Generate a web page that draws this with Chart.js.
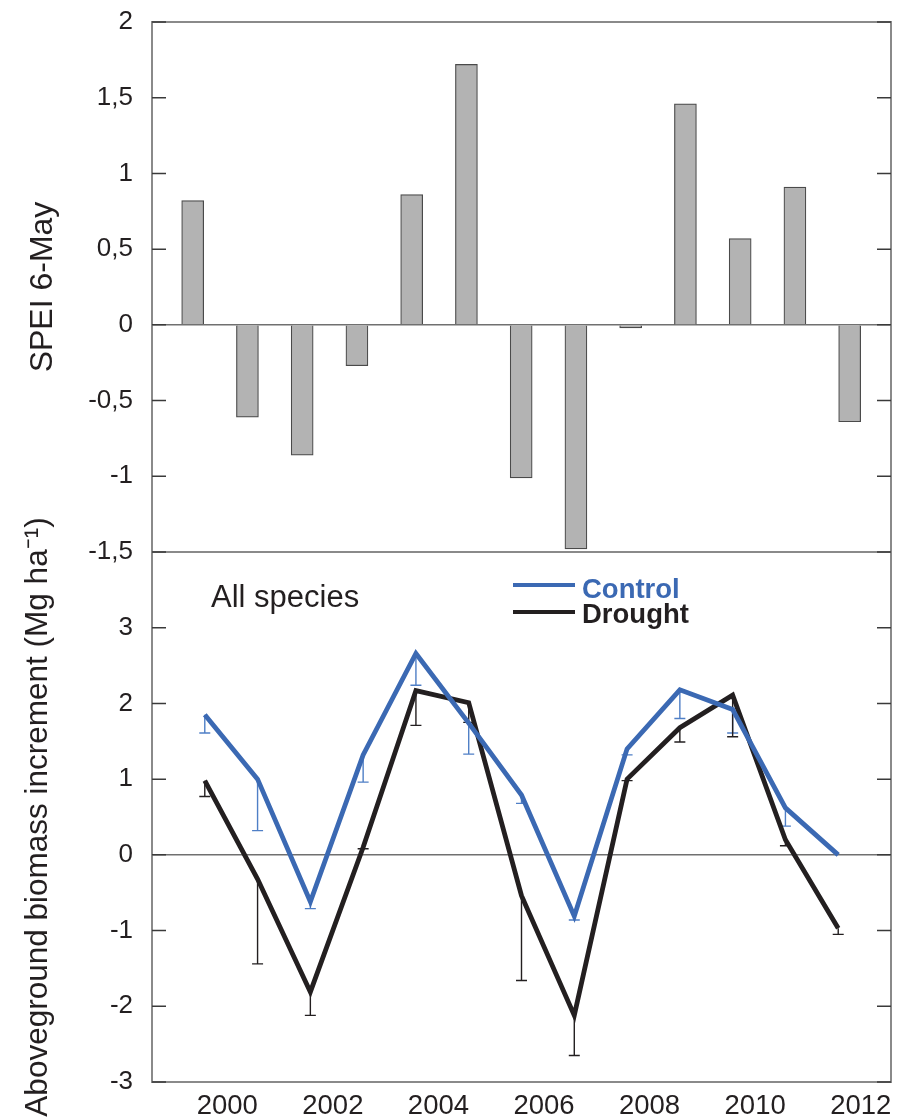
<!DOCTYPE html>
<html><head><meta charset="utf-8">
<script src="https://cdn.jsdelivr.net/npm/chart.js@4.4.1/dist/chart.umd.min.js"></script>
<style>
html,body{margin:0;padding:0;background:#fff;}
#wrap{position:relative;width:903px;height:1118px;overflow:hidden;}
canvas{position:absolute;left:0;top:0;}
</style></head><body>
<div id="wrap"><canvas id="topc" width="903" height="1118" style="width:903px;height:1118px"></canvas><canvas id="botc" width="903" height="1118" style="width:903px;height:1118px"></canvas></div>
<script>
// ---- data ----
const years = [2000, 2001, 2002, 2003, 2004, 2005, 2006, 2007, 2008, 2009, 2010, 2011, 2012];
const spei = [0.82, -0.61, -0.86, -0.27, 0.86, 1.72, -1.01, -1.48, -0.02, 1.46, 0.57, 0.91, -0.64];
const control = [1.85, 1.00, -0.62, 1.32, 2.66, 1.74, 0.79, -0.81, 1.40, 2.18, 1.92, 0.62, 0.00];
const controlLow = [1.61, 0.32, -0.71, 0.96, 2.24, 1.33, 0.68, -0.86, 1.32, 1.80, 1.61, 0.38, null];
const drought = [0.98, -0.32, -1.81, 0.10, 2.17, 2.01, -0.54, -2.12, 1.00, 1.68, 2.11, 0.20, -0.97];
const droughtLow = [0.77, -1.44, -2.12, 0.08, 1.71, 1.75, -1.66, -2.65, 0.98, 1.49, 1.56, 0.12, -1.05];
const xTickYears = [2000, 2002, 2004, 2006, 2008, 2010, 2012];
const speiTicks = [-1.5, -1, -0.5, 0, 0.5, 1, 1.5, 2];
const biomassTicks = [-3, -2, -1, 0, 1, 2, 3, 4];

const FONT = '"Liberation Sans", Arial, Helvetica, sans-serif';
const TXT = '#231f20';
const BLUE = '#3b69b3';
const BLUE_ERR = '#4f7fc6';
const BLACK = '#231f20';

const framePlugin = {
  id: 'frame',
  afterDatasetsDraw(chart) {
    const {ctx, chartArea: a} = chart;
    const ys = chart.scales.y;
    ctx.save();
    ctx.strokeStyle = '#8a8a8a';
    ctx.lineWidth = 2;
    ctx.strokeRect(a.left, a.top, a.right - a.left, a.bottom - a.top);
    ctx.strokeStyle = '#3a3a3a';
    ctx.lineWidth = 1.5;
    ys.ticks.forEach(t => {
      const py = ys.getPixelForValue(t.value);
      ctx.beginPath();
      ctx.moveTo(a.left, py); ctx.lineTo(a.left + 14, py);
      ctx.moveTo(a.right - 14, py); ctx.lineTo(a.right, py);
      ctx.stroke();
    });
    ctx.restore();
  }
};

const errPlugin = {
  id: 'errbars',
  beforeDatasetsDraw(chart) {
    const {ctx, scales: {x, y}} = chart;
    chart.data.datasets.forEach(ds => {
      if (!ds.errLow) return;
      ctx.save();
      ctx.strokeStyle = ds.errColor;
      ctx.lineWidth = 1.4;
      ds.data.forEach((p, i) => {
        const lo = ds.errLow[i];
        if (lo == null) return;
        const px = x.getPixelForValue(p.x);
        const py = y.getPixelForValue(p.y);
        const pl = y.getPixelForValue(lo);
        ctx.beginPath();
        ctx.moveTo(px, py); ctx.lineTo(px, pl);
        ctx.moveTo(px - 5.5, pl); ctx.lineTo(px + 5.5, pl);
        ctx.stroke();
      });
      ctx.restore();
    });
  }
};

const annotPlugin = {
  id: 'annot',
  afterDraw(chart) {
    const {ctx, chartArea: a} = chart;
    ctx.save();
    ctx.textBaseline = 'alphabetic';
    ctx.textAlign = 'left';
    ctx.fillStyle = TXT;
    ctx.font = '31px ' + FONT;
    ctx.fillText('All species', a.left + 59, a.top + 55);
    // legend
    const lx = a.left + 361, tx = a.left + 430;
    ctx.lineWidth = 4;
    ctx.strokeStyle = BLUE;
    ctx.beginPath(); ctx.moveTo(lx, a.top + 33); ctx.lineTo(lx + 62, a.top + 33); ctx.stroke();
    ctx.strokeStyle = BLACK;
    ctx.beginPath(); ctx.moveTo(lx, a.top + 60); ctx.lineTo(lx + 62, a.top + 60); ctx.stroke();
    ctx.font = 'bold 27.5px ' + FONT;
    ctx.fillStyle = BLUE;
    ctx.fillText('Control', tx, a.top + 46);
    ctx.fillStyle = BLACK;
    ctx.fillText('Drought', tx, a.top + 71);
    ctx.restore();
  }
};

const zeroGrid = {
  drawTicks: false,
  color: c => (c.tick && c.tick.value === 0) ? '#707070' : 'rgba(0,0,0,0)',
  lineWidth: 1.5
};
const fitY = s => { s.width = 152; s.paddingTop = 0; s.paddingBottom = 0; };

// ---- top chart: SPEI bars ----
new Chart(document.getElementById('topc'), {
  type: 'bar',
  data: {
    datasets: [{
      data: years.map((yr, i) => ({x: yr, y: spei[i]})),
      backgroundColor: '#b3b3b3',
      borderColor: '#4a4a4a',
      borderWidth: 1.2,
      barThickness: 22
    }]
  },
  options: {
    responsive: false,
    animation: false,
    devicePixelRatio: 1,
    layout: {padding: {top: 22, right: 12, bottom: 566, left: 0}},
    plugins: {legend: {display: false}, tooltip: {enabled: false}},
    scales: {
      x: {type: 'linear', display: false, offset: false, min: 1999.257, max: 2012.755},
      y: {
        min: -1.5, max: 2,
        afterFit: fitY,
        afterBuildTicks: s => { s.ticks = speiTicks.map(v => ({value: v})); },
        border: {display: false},
        grid: zeroGrid,
        ticks: {
          padding: 19, color: TXT,
          font: {family: FONT, size: 26},
          callback: v => String(v).replace('.', ',')
        },
        title: {
          display: true, text: 'SPEI 6-May', color: TXT,
          font: {family: FONT, size: 32},
          padding: {top: 24, bottom: 0}
        }
      }
    }
  },
  plugins: [framePlugin]
});

// ---- bottom chart: biomass increment lines ----
new Chart(document.getElementById('botc'), {
  type: 'line',
  data: {
    datasets: [
      {
        label: 'Control',
        data: years.map((yr, i) => ({x: yr, y: control[i]})),
        errLow: controlLow, errColor: BLUE_ERR,
        borderColor: BLUE, borderWidth: 4.8, pointRadius: 0,
        tension: 0, fill: false, borderJoinStyle: 'miter', borderCapStyle: 'butt'
      },
      {
        label: 'Drought',
        data: years.map((yr, i) => ({x: yr, y: drought[i]})),
        errLow: droughtLow, errColor: BLACK,
        borderColor: BLACK, borderWidth: 4.8, pointRadius: 0,
        tension: 0, fill: false, borderJoinStyle: 'miter', borderCapStyle: 'butt'
      }
    ]
  },
  options: {
    responsive: false,
    animation: false,
    devicePixelRatio: 1,
    layout: {padding: {top: 552, right: 12, bottom: 0, left: 0}},
    plugins: {legend: {display: false}, tooltip: {enabled: false}},
    scales: {
      x: {
        type: 'linear', min: 1999, max: 2013, offset: false,
        afterFit: s => { s.height = 36; s.paddingLeft = 0; s.paddingRight = 0; },
        afterBuildTicks: s => { s.ticks = xTickYears.map(v => ({value: v})); },
        border: {display: false},
        grid: {display: false, drawTicks: false},
        ticks: {
          padding: 8, labelOffset: 22.5, maxRotation: 0, autoSkip: false,
          color: TXT, font: {family: FONT, size: 27.5},
          callback: v => String(v)
        }
      },
      y: {
        min: -3, max: 4,
        afterFit: fitY,
        afterBuildTicks: s => { s.ticks = biomassTicks.map(v => ({value: v})); },
        border: {display: false},
        grid: zeroGrid,
        ticks: {
          padding: 19, color: TXT,
          font: {family: FONT, size: 26},
          callback: v => (v === 4 ? '' : String(v))
        },
        title: {
          display: true, text: 'Aboveground biomass increment (Mg ha\u207B\u00B9)', color: TXT,
          font: {family: FONT, size: 31.5},
          padding: {top: 19, bottom: 0}
        }
      }
    }
  },
  plugins: [errPlugin, framePlugin, annotPlugin]
});
</script>
</body></html>
